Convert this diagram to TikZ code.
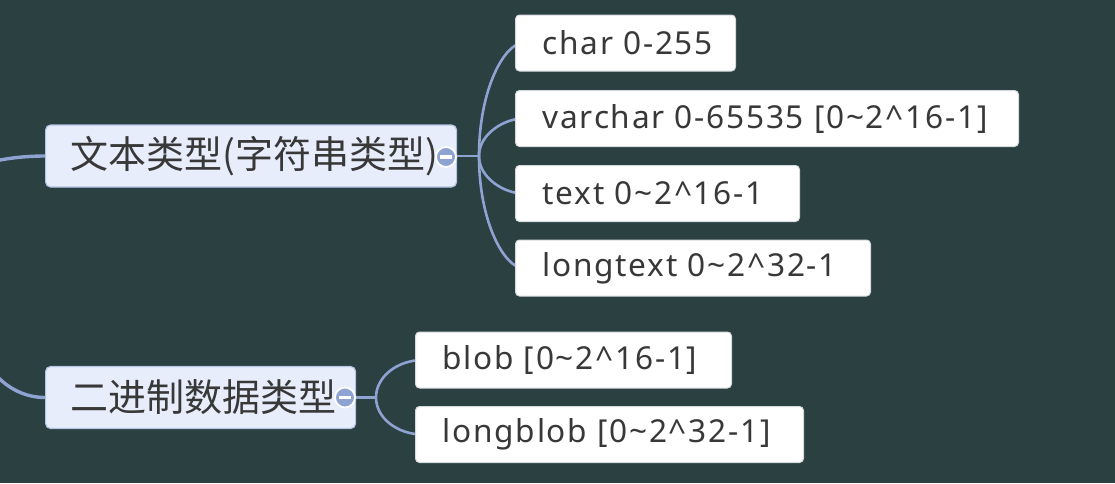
\documentclass[tikz,border=0pt]{standalone}
\usepackage{fontspec}
\setmainfont{Noto Sans}[LetterSpace=5.6]
\newfontfamily\cjk{Noto Sans CJK SC}
\usepackage{xcolor}
\usetikzlibrary{calc, backgrounds}
\definecolor{board}{HTML}{2A4041}
\definecolor{branchline}{HTML}{8FA3D2}
\definecolor{topicfill}{HTML}{E7EDFB}
\definecolor{topicline}{HTML}{B4C3E6}
\definecolor{leafline}{HTML}{D6D9DE}
\definecolor{ink}{HTML}{383838}
% fixed-width box, text flush left, never wraps
\newcommand\leafbox[2]{\makebox[#1][l]{#2}}

\begin{document}
\begin{tikzpicture}[x=0.5pt,y=-0.5pt,
	topic/.style={draw=topicline, fill=topicfill, line width=0.6pt, rounded corners=2.5pt, minimum height=31pt, inner xsep=12.5pt, anchor=west, text=ink, font=\cjk\fontsize{19}{22}\selectfont},
	leaf/.style={draw=leafline, fill=white, line width=0.5pt, rounded corners=2pt, minimum height=28pt, inner xsep=13.5pt, anchor=west, text=ink, font=\fontsize{15.8}{18}\selectfont},
	fold/.style={circle, fill=branchline, draw=white, line width=0.9pt, minimum size=10pt, inner sep=0pt,
		path picture={\draw[white, line width=1.6pt] ([xshift=-2.8pt]path picture bounding box.center) -- ([xshift=2.8pt]path picture bounding box.center);}},
	branch/.style={draw=branchline, line width=1.3pt}]
	\useasboundingbox (0,0) rectangle (1115,483);

	\draw (45,156) node[topic] (str) {\leafbox{180.5pt}{文本类型(字符串类型)}}
		(45,397.5) node[topic] (bin) {\leafbox{130pt}{二进制数据类型}}
		(515,43) node[leaf] (char) {\leafbox{83pt}{char 0-255}}
		(515,118.5) node[leaf] (varchar) {\leafbox{224.5pt}{varchar 0-65535 [0\textasciitilde2\textasciicircum16-1]}}
		(515,193.5) node[leaf] (text) {\leafbox{115pt}{text 0\textasciitilde2\textasciicircum16-1}}
		(515,268) node[leaf] (longtext) {\leafbox{150.5pt}{longtext 0\textasciitilde2\textasciicircum32-1}}
		(415,360) node[leaf] (blob) {\leafbox{131pt}{blob [0\textasciitilde2\textasciicircum16-1]}}
		(415,434.5) node[leaf] (longblob) {\leafbox{167pt}{longblob [0\textasciitilde2\textasciicircum32-1]}};

	\node[fold] (strfold) at (446,157) {};
	\node[fold] (binfold) at (345,397.5) {};

	\coordinate (strtail) at (-105,243);
	\coordinate (bintail) at (-25,320);
	\coordinate (strjoin) at (479,156);
	\coordinate (binjoin) at (376,397.5);

	\begin{scope}[on background layer]
		\fill[board] (0,0) rectangle (1115,483);
		\clip (0,0) rectangle (1115,483);
		% tails to the root topic, off the left edge
		\draw[branch, line width=1.7pt] (strtail) .. controls ($(strtail)!0.55!(strtail |- str.west)$) and ($(str.west)!0.55!(strtail |- str.west)$) .. (str.west);
		\draw[branch, line width=1.7pt] (bintail) .. controls ($(bintail)!0.55!(bintail |- bin.west)$) and ($(bin.west)!0.55!(bintail |- bin.west)$) .. (bin.west);

		\draw[branch] (str.east) -- (strjoin);
		\foreach \leafname in {char, varchar, text, longtext}
			\draw[branch] (strjoin) .. controls ($(strjoin)!0.6!(strjoin |- \leafname.west)$) and ($([xshift=8pt]\leafname.west)!0.5!(strjoin |- \leafname.west)$) .. ([xshift=4pt]\leafname.west);

		\draw[branch] (bin.east) -- (binjoin);
		\foreach \leafname in {blob, longblob}
			\draw[branch] (binjoin) .. controls ($(binjoin)!0.55!(binjoin |- \leafname.west)$) and ($([xshift=4pt]\leafname.west)!0.55!(binjoin |- \leafname.west)$) .. ([xshift=4pt]\leafname.west);
	\end{scope}
\end{tikzpicture}
\end{document}
